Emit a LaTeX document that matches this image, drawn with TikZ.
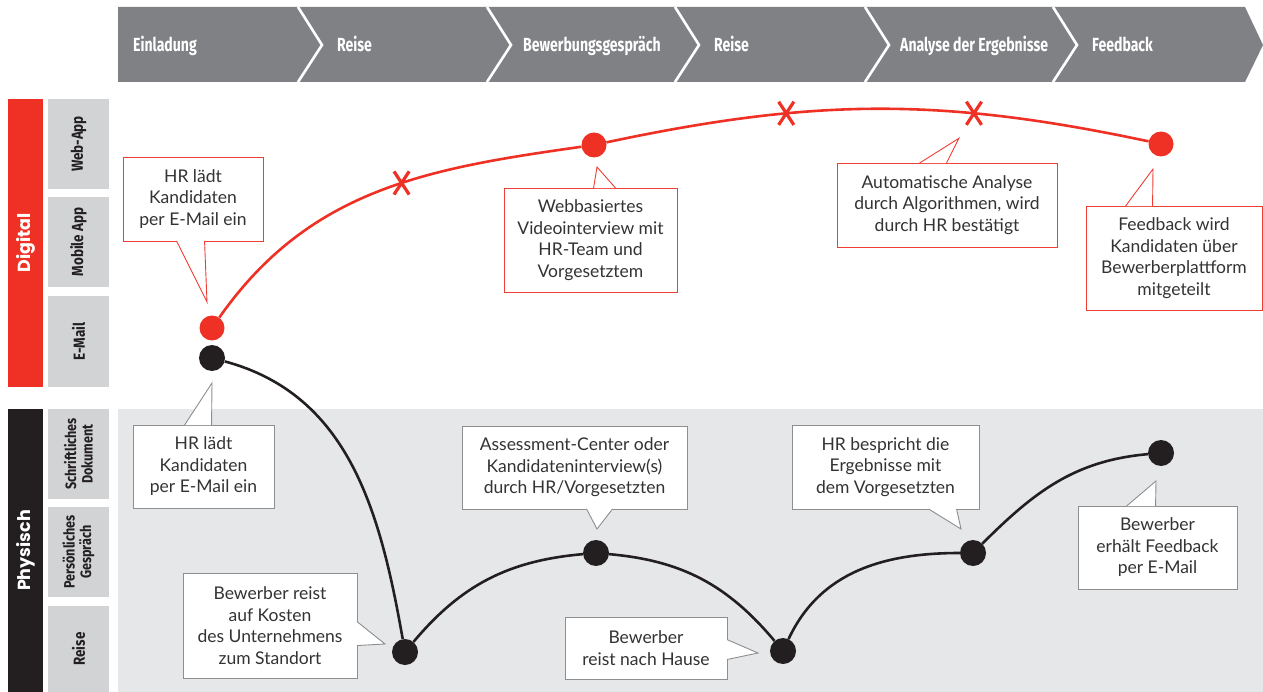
\documentclass[tikz,border=0pt]{standalone}
\usepackage{fontspec}
\setmainfont{Lato}
\newfontfamily\condfont[FakeStretch=0.74]{Fira Sans}
\newfontfamily\labfont[FakeStretch=0.84]{Fira Sans}
\newfontfamily\barfont{Poppins}
\usetikzlibrary{shapes.misc, calc}

\definecolor{jred}{HTML}{EE3124}
\definecolor{jblack}{HTML}{231F20}
\definecolor{boxred}{HTML}{EF3E33}
\definecolor{boxgray}{HTML}{8C8E90}
\definecolor{headgray}{HTML}{808184}
\definecolor{labgray}{HTML}{D1D3D4}
\definecolor{lightbg}{HTML}{E6E7E8}
\definecolor{txtgray}{HTML}{333333}

\begin{document}
\begin{tikzpicture}[x=1pt, y=-1pt,
    every node/.style={font=\fontsize{17.5}{21.5}\selectfont, text=txtgray},
    redbox/.style={draw=boxred, fill=white, line width=0.9, align=center, inner sep=0pt},
    graybox/.style={draw=boxgray, fill=white, line width=0.9, align=center, inner sep=0pt},
    redptr/.style={draw=boxred, fill=white, line width=0.9},
    grayptr/.style={draw=boxgray, fill=white, line width=0.9},
    reddot/.style={circle, fill=jred, minimum size=25, inner sep=0pt},
    blackdot/.style={circle, fill=jblack, minimum size=26, inner sep=0pt},
    redline/.style={draw=jred, line width=2.6},
    blackline/.style={draw=jblack, line width=2.6},
    xmark/.style={cross out, draw=jred, line width=3.2, minimum width=12, minimum height=20, inner sep=0pt},
    headtext/.style={anchor=base west, text=white, inner sep=0pt, font=\condfont\bfseries\fontsize{19}{19}\selectfont},
    sidebar/.style={rotate=90, minimum height=35, inner sep=0pt, text=white, font=\barfont\bfseries\fontsize{17.5}{17.5}\selectfont},
    sublabel/.style={rotate=90, fill=labgray, minimum height=61, inner sep=0pt, align=center, text=jblack, font=\labfont\bfseries\fontsize{16}{18}\selectfont},
    sublabelsmall/.style={sublabel, font=\labfont\bfseries\fontsize{15}{16.5}\selectfont}
]
    \useasboundingbox (0,0) rectangle (1263,692);

    % Header
    \fill[headgray] (118,7) -- (1245,7) -- (1263,45) -- (1245,82) -- (118,82) -- cycle;
    \foreach \x in {298,487,675,865,1053}
        \draw[white, line width=2.6] (\x,7) -- (\x+24,45) -- (\x,82);
    \node (h1) [headtext] at (133,51.5) {Einladung};
    \node (h2) [headtext] at (337,51.5) {Reise};
    \node (h3) [headtext] at (523,51.5) {Bewerbungsgespräch};
    \node (h4) [headtext] at (714,51.5) {Reise};
    \node (h5) [headtext] at (900,51.5) {Analyse der Ergebnisse};
    \node (h6) [headtext] at (1092,51.5) {Feedback};

    % Channels
    \node (digital) [sidebar, fill=jred, minimum width=288] at (25.5,243) {Digital};
    \node (physisch) [sidebar, fill=jblack, minimum width=283] at (25.5,550.5) {Physisch};
    \node (webapp) [sublabel, minimum width=90] at (78.5,144) {Web-App};
    \node (mobileapp) [sublabel, minimum width=90] at (78.5,242) {Mobile App};
    \node (email) [sublabel, minimum width=91] at (78.5,341.5) {E-Mail};
    \node (dokument) [sublabelsmall, minimum width=90] at (78.5,454) {Schriftliches\\Dokument};
    \node (gespraech) [sublabelsmall, minimum width=90] at (78.5,552) {Persönliches\\Gespräch};
    \node (reise) [sublabel, minimum width=86] at (78.5,649) {Reise};

    % Physical lane
    \fill[lightbg] (118,409) rectangle (1263,692);

    % Dots
    \node (rd1) [reddot] at (212,328) {};
    \node (rd2) [reddot] at (594,145) {};
    \node (rd3) [reddot] at (1161,144) {};
    \node (bd1) [blackdot] at (212,358) {};
    \node (bd2) [blackdot] at (405,652) {};
    \node (bd3) [blackdot] at (596,553) {};
    \node (bd4) [blackdot] at (783,651) {};
    \node (bd5) [blackdot] at (973,553) {};
    \node (bd6) [blackdot] at (1161,453) {};

    % Digital journey
    \draw[redline] (rd1) to[out=55, in=188] node[xmark, pos=0.57] (x1) {} (rd2);
    \draw[redline] (rd2) to[out=12, in=168] node[xmark, pos=0.32] (x2) {} node[xmark, pos=0.69] (x3) {} (rd3);

    % Physical journey
    \draw[blackline] (bd1) to[out=-15, in=100] (bd2);
    \draw[blackline] (bd2) to[out=50, in=185] (bd3);
    \draw[blackline] (bd3) to[out=-5, in=130] (bd4);
    \draw[blackline] (bd4) to[out=65, in=180] (bd5);
    \draw[blackline] (bd5) to[out=45, in=185] (bd6);

    % Digital callouts
    \node (c1) [redbox, minimum width=140, minimum height=84] at (193,199) {HR lädt\\Kandidaten\\per E-Mail ein};
    \coordinate (t1) at ([shift={(-5,-26)}]rd1.center);
    \filldraw[redptr] ([xshift=54, yshift=0.5]c1.south west) -- (t1) -- ([xshift=82, yshift=0.5]c1.south west);

    \node (c2) [redbox, minimum width=173, minimum height=104] at (590.5,240) {Webbasiertes\\Videointerview mit\\HR-Team und\\Vorgesetztem};
    \coordinate (t2) at ([shift={(3,22)}]rd2.center);
    \filldraw[redptr] ([xshift=90, yshift=-0.5]c2.north west) -- (t2) -- ([xshift=112, yshift=-0.5]c2.north west);

    \node (c3) [redbox, minimum width=220, minimum height=84] at (947,205) {Automatische Analyse\\durch Algorithmen, wird\\durch HR bestätigt};
    \coordinate (t3) at ([shift={(-15,25)}]x3.center);
    \filldraw[redptr] ([xshift=83, yshift=-0.5]c3.north west) -- (t3) -- ([xshift=110, yshift=-0.5]c3.north west);

    \node (c4) [redbox, minimum width=176, minimum height=104] at (1174,258) {Feedback wird\\Kandidaten über\\Bewerberplattform\\mitgeteilt};
    \coordinate (t4) at ([shift={(-8,25)}]rd3.center);
    \filldraw[redptr] ([xshift=40, yshift=-0.5]c4.north west) -- (t4) -- ([xshift=67, yshift=-0.5]c4.north west);

    % Physical callouts
    \node (c5) [graybox, minimum width=141, minimum height=83] at (203.5,466.5) {HR lädt\\Kandidaten\\per E-Mail ein};
    \coordinate (t5) at ([shift={(0,25)}]bd1.center);
    \filldraw[grayptr] ([xshift=52, yshift=-0.5]c5.north west) -- (t5) -- ([xshift=79, yshift=-0.5]c5.north west);

    \node (c6) [graybox, minimum width=174, minimum height=105] at (270,625.5) {Bewerber reist\\auf Kosten\\des Unternehmens\\zum Standort};
    \coordinate (t6) at ([shift={(-20,-8)}]bd2.center);
    \filldraw[grayptr] ([xshift=-0.5, yshift=-49]c6.north east) -- (t6) -- ([xshift=-0.5, yshift=-73]c6.north east);

    \node (c7) [graybox, minimum width=225, minimum height=83] at (574.5,467.5) {Assessment-Center oder\\Kandidateninterview(s)\\durch HR/Vorgesetzten};
    \coordinate (t7) at ([shift={(1,-24)}]bd3.center);
    \filldraw[grayptr] ([xshift=125, yshift=0.5]c7.south west) -- (t7) -- ([xshift=151, yshift=0.5]c7.south west);

    \node (c8) [graybox, minimum width=162, minimum height=62] at (646,648) {Bewerber\\reist nach Hause};
    \coordinate (t8) at ([shift={(-25,2)}]bd4.center);
    \filldraw[grayptr] ([xshift=-0.5, yshift=-23]c8.north east) -- (t8) -- ([xshift=-0.5, yshift=-43]c8.north east);

    \node (c9) [graybox, minimum width=187, minimum height=84] at (885.5,467) {HR bespricht die\\Ergebnisse mit\\dem Vorgesetzten};
    \coordinate (t9) at ([shift={(-12,-24)}]bd5.center);
    \filldraw[grayptr] ([xshift=137, yshift=0.5]c9.south west) -- (t9) -- ([xshift=165, yshift=0.5]c9.south west);

    \node (c10) [graybox, minimum width=159, minimum height=83] at (1157.5,547.5) {Bewerber\\erhält Feedback\\per E-Mail};
    \coordinate (t10) at ([shift={(-5,28)}]bd6.center);
    \filldraw[grayptr] ([xshift=49, yshift=-0.5]c10.north west) -- (t10) -- ([xshift=78, yshift=-0.5]c10.north west);
\end{tikzpicture}
\end{document}
